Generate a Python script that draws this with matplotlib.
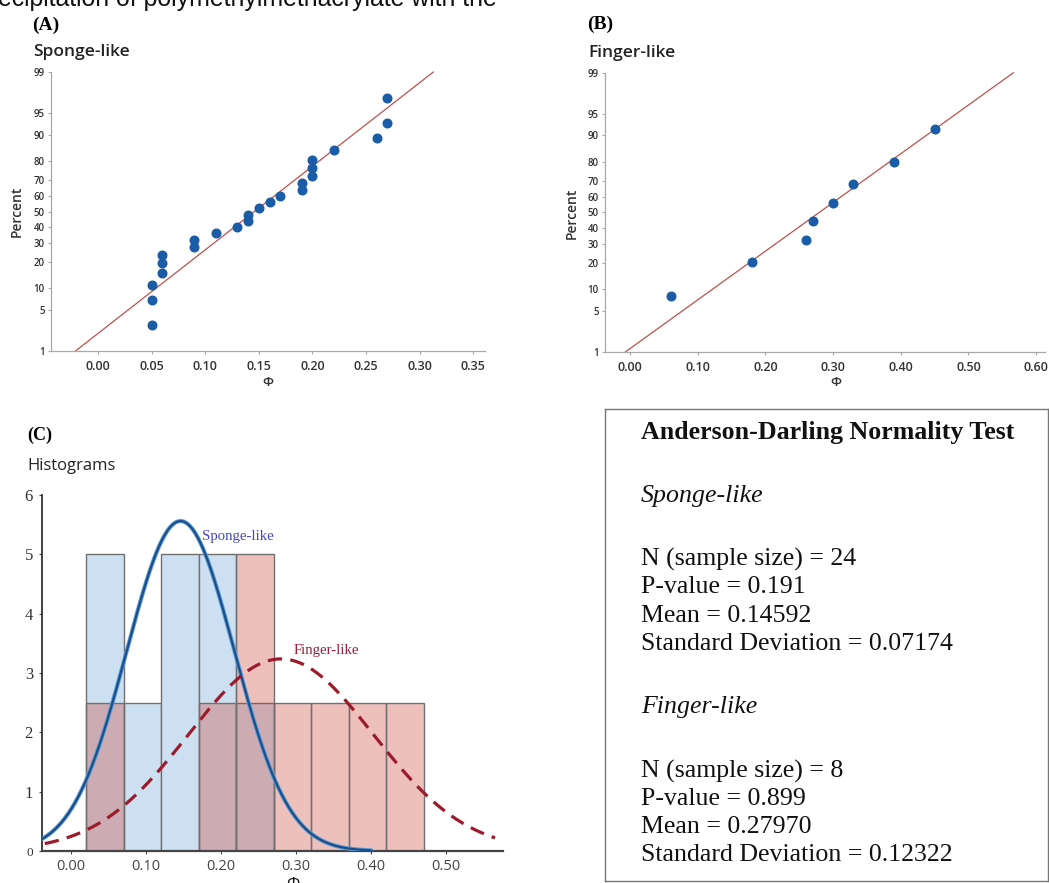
import numpy as np
import matplotlib
matplotlib.use("Agg")
import matplotlib.pyplot as plt
from matplotlib.colors import to_rgba
from matplotlib.ticker import NullLocator
from statistics import NormalDist

W, H = 1049, 883
SANS = "Open Sans"
SERIF = "Liberation Serif"

# --- data ---
sponge_phi = [0.05, 0.05, 0.05, 0.06, 0.06, 0.06, 0.09, 0.09, 0.11, 0.13, 0.14, 0.14,
              0.15, 0.16, 0.17, 0.19, 0.19, 0.20, 0.20, 0.20, 0.22, 0.26, 0.27, 0.27]
sponge_pct = [2.9, 7.0, 11.1, 15.2, 19.3, 23.4, 27.5, 31.6, 35.7, 39.8, 43.9, 48.0,
              52.0, 56.1, 60.2, 64.3, 68.4, 72.5, 76.6, 80.7, 84.8, 88.9, 93.0, 97.1]
finger_phi = [0.06, 0.18, 0.26, 0.27, 0.30, 0.33, 0.39, 0.45]
finger_pct = [8.3, 20.2, 32.1, 44.0, 56.0, 67.9, 79.8, 91.7]

sponge_mean, sponge_sd, sponge_n, sponge_p = 0.14592, 0.07174, 24, 0.191
finger_mean, finger_sd, finger_n, finger_p = 0.27970, 0.12322, 8, 0.899

pct_ticks = [1, 5, 10, 20, 30, 40, 50, 60, 70, 80, 90, 95, 99]
a_xticks = [0.00, 0.05, 0.10, 0.15, 0.20, 0.25, 0.30, 0.35]
b_xticks = [0.00, 0.10, 0.20, 0.30, 0.40, 0.50, 0.60]

bin_left = [0.02, 0.07, 0.12, 0.17, 0.22, 0.27, 0.32, 0.37, 0.42]
sponge_density = [5.0, 2.5, 5.0, 5.0, 2.5, 0, 0, 0, 0]
finger_density = [2.5, 0, 0, 2.5, 5.0, 2.5, 2.5, 2.5, 2.5]
c_xticks = [0.00, 0.10, 0.20, 0.30, 0.40, 0.50]
c_yticks = [0, 1, 2, 3, 4, 5, 6]

nd = NormalDist()
_ppf = np.vectorize(lambda v: nd.inv_cdf(v / 100.0), otypes=[float])
_cdf = np.vectorize(lambda v: nd.cdf(v) * 100.0, otypes=[float])


def _fwd(p):
    p = np.clip(np.asarray(p, dtype=float), 1e-9, 100 - 1e-9)
    return _ppf(p)


def _inv(z):
    z = np.nan_to_num(np.asarray(z, dtype=float), nan=0.0, posinf=40.0, neginf=-40.0)
    return _cdf(z)


def px_axes(fig, l, t, r, b):
    return fig.add_axes([l / W, 1 - b / H, (r - l) / W, (b - t) / H])


def ftext(fig, x, y, s, **kw):
    return fig.text(x / W, 1 - y / H, s, **kw)


def prob_panel(ax, phi, pct, mean, sd, xlim, xticks):
    ax.set_yscale("function", functions=(_fwd, _inv))
    ax.set_ylim(1, 99)
    ax.set_xlim(*xlim)
    ax.set_yticks(pct_ticks)
    ax.set_yticklabels([str(t) for t in pct_ticks])
    ax.yaxis.set_minor_locator(NullLocator())
    ax.set_xticks(xticks)
    ax.set_xticklabels([f"{t:.2f}" for t in xticks])
    fx = [mean + sd * nd.inv_cdf(0.01), mean + sd * nd.inv_cdf(0.99)]
    ax.plot(fx, [1, 99], color="#c0504d", lw=0.9, zorder=2, clip_on=False)
    ax.plot(phi, pct, "o", color="#1a5ca6", ms=6.2, mec="#1a5ca6", zorder=3, clip_on=False)
    for s in ("top", "right"):
        ax.spines[s].set_visible(False)
    for s in ("left", "bottom"):
        ax.spines[s].set_color("#a8a8a8")
        ax.spines[s].set_linewidth(0.9)
    ax.tick_params(axis="both", direction="out", length=2.5, width=0.8, color="#a8a8a8",
                   labelcolor="#333333")
    ax.tick_params(axis="y", labelsize=7, pad=2)
    ax.tick_params(axis="x", labelsize=9, pad=4)
    for lab in ax.get_xticklabels() + ax.get_yticklabels():
        lab.set_family(SANS)
        lab.set_fontweight("semibold")


fig = plt.figure(figsize=(W / 100, H / 100), dpi=100)
fig.patch.set_facecolor("white")

# cropped caption at the very top (cut off in the source as well)
ftext(fig, -2, 6.0, "ecipitation of polymethylmethacrylate with the", family="Liberation Sans",
      fontsize=17.9, va="baseline", ha="left", color="#111")

# --- (A) sponge-like probability plot ---
axA = px_axes(fig, 51, 72, 485, 351)
prob_panel(axA, sponge_phi, sponge_pct, sponge_mean, sponge_sd, (-0.0438, 0.361), a_xticks)
ftext(fig, 32, 25, "(A)", family=SERIF, fontweight="bold", fontsize=14, va="center")
ftext(fig, 33, 52, "Sponge-like", family=SANS, fontweight="semibold", fontsize=12.5,
      va="center", color="#222")
ftext(fig, 17, 211, "Percent", family=SANS, fontweight="semibold", fontsize=10,
      rotation=90, va="center", ha="center", color="#333")
ftext(fig, 268, 383, "\u03a6", family=SANS, fontweight="semibold", fontsize=9.5,
      va="center", ha="center", color="#333")

# --- (B) finger-like probability plot ---
axB = px_axes(fig, 605, 72.7, 1045, 352)
prob_panel(axB, finger_phi, finger_pct, finger_mean, finger_sd, (-0.0369, 0.613), b_xticks)
ftext(fig, 587, 24, "(B)", family=SERIF, fontweight="bold", fontsize=14, va="center")
ftext(fig, 588, 53, "Finger-like", family=SANS, fontweight="semibold", fontsize=12.5,
      va="center", color="#222")
ftext(fig, 572, 213, "Percent", family=SANS, fontweight="semibold", fontsize=10,
      rotation=90, va="center", ha="center", color="#333")
ftext(fig, 836, 383, "\u03a6", family=SANS, fontweight="semibold", fontsize=9.5,
      va="center", ha="center", color="#333")

# --- (C) histograms with fitted normal curves ---
axC = px_axes(fig, 42, 495, 503, 851)
blue_face = "#cde0f1"
red_face = to_rgba("#cd3d31", 0.32)
edge = "#707070"
for x0, h in zip(bin_left, sponge_density):
    if h > 0:
        axC.bar(x0, h, width=0.05, align="edge", color=blue_face, edgecolor=edge, lw=1.0, zorder=1)
for x0, h in zip(bin_left, finger_density):
    if h > 0:
        axC.bar(x0, h, width=0.05, align="edge", color=red_face, edgecolor=edge, lw=1.0, zorder=2)

xs = np.linspace(-0.0387, 0.40, 400)
ys = [NormalDist(sponge_mean, sponge_sd).pdf(v) for v in xs]
axC.plot(xs, ys, color="#5b9bd5", lw=3.0, zorder=3, solid_capstyle="round")
axC.plot(xs, ys, color="#1b4f8a", lw=1.6, zorder=4)
xf = np.linspace(-0.035, 0.565, 400)
yf = [NormalDist(finger_mean, finger_sd).pdf(v) for v in xf]
axC.plot(xf, yf, color="#9b1b2b", lw=2.3, dashes=(4.5, 2.6), zorder=4)

axC.text(0.175, 5.3, "Sponge-like", family=SERIF, fontsize=10.6, color="#4646c4", va="center")
axC.text(0.296, 3.38, "Finger-like", family=SERIF, fontsize=10.6, color="#9c1f3a", va="center")

axC.set_xlim(-0.0387, 0.5756)
axC.set_ylim(0, 6)
axC.set_xticks(c_xticks)
axC.set_xticklabels([f"{t:.2f}" for t in c_xticks])
axC.set_yticks(c_yticks)
axC.set_yticklabels([str(t) for t in c_yticks])
for s in ("top", "right"):
    axC.spines[s].set_visible(False)
axC.spines["left"].set_color("#333")
axC.spines["left"].set_linewidth(1.3)
axC.spines["bottom"].set_color("#444")
axC.spines["bottom"].set_linewidth(1.6)
axC.tick_params(axis="both", direction="out", length=2.5, width=0.8, color="#444")
axC.tick_params(axis="x", labelsize=10.5, labelcolor="#444", pad=3)
axC.tick_params(axis="y", labelsize=12, labelcolor="#333", pad=4)
for lab in axC.get_xticklabels():
    lab.set_family(SANS)
for lab in axC.get_yticklabels():
    lab.set_family(SERIF)
axC.get_yticklabels()[0].set_fontsize(9.5)

ftext(fig, 27, 435, "(C)", family=SERIF, fontweight="bold", fontsize=13, va="center")
ftext(fig, 27, 466, "Histograms", family=SANS, fontsize=12, va="center", color="#222")
ftext(fig, 293, 877, "\u03a6", family=SANS, fontsize=12, va="top", ha="center", color="#111")

# --- Anderson-Darling summary box ---
axD = px_axes(fig, 605, 409, 1048, 881)
axD.set_xticks([])
axD.set_yticks([])
for s in axD.spines.values():
    s.set_color("#777")
    s.set_linewidth(1.0)

box_lines = [
    ("Anderson-Darling Normality Test", "bold", 433),
    ("Sponge-like", "italic", 496),
    (f"N (sample size) = {sponge_n}", "normal", 559),
    (f"P-value = {sponge_p:.3f}", "normal", 587),
    (f"Mean = {sponge_mean:.5f}", "normal", 616),
    (f"Standard Deviation = {sponge_sd:.5f}", "normal", 644),
    ("Finger-like", "italic", 707),
    (f"N (sample size) = {finger_n}", "normal", 771),
    (f"P-value = {finger_p:.3f}", "normal", 799),
    (f"Mean = {finger_mean:.5f}", "normal", 827),
    (f"Standard Deviation = {finger_sd:.5f}", "normal", 855),
]
for txt, sty, yy in box_lines:
    kw = dict(family=SERIF, fontsize=18.6, va="center", ha="left", color="#111")
    if sty == "bold":
        kw["fontweight"] = "bold"
    elif sty == "italic":
        kw["fontstyle"] = "italic"
    ftext(fig, 641, yy, txt, **kw)

fig.savefig("out.png", dpi=100)
